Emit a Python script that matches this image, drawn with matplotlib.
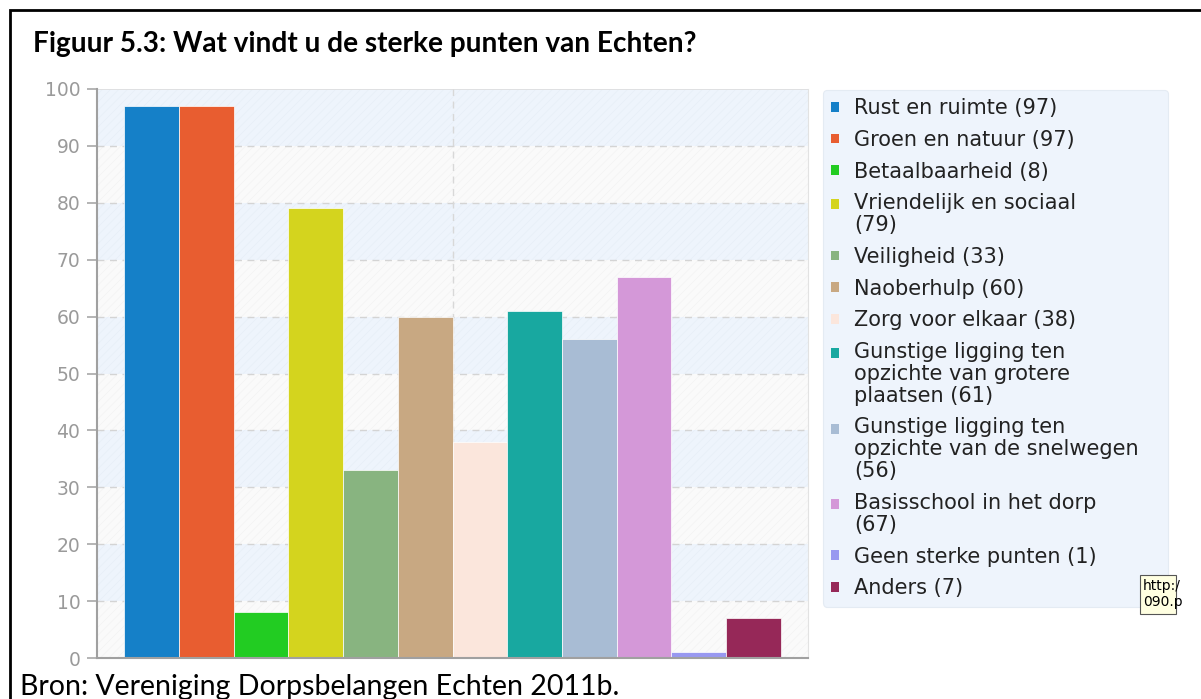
import matplotlib
matplotlib.use("Agg")
import matplotlib.pyplot as plt
from matplotlib.patches import Patch, Rectangle
from matplotlib.legend_handler import HandlerBase

categories = ["Rust en ruimte", "Groen en natuur", "Betaalbaarheid",
              "Vriendelijk en sociaal", "Veiligheid", "Naoberhulp",
              "Zorg voor elkaar", "Gunstige ligging ten opzichte van grotere plaatsen",
              "Gunstige ligging ten opzichte van de snelwegen",
              "Basisschool in het dorp", "Geen sterke punten", "Anders"]
legend_text = ["Rust en ruimte (97)", "Groen en natuur (97)", "Betaalbaarheid (8)",
               "Vriendelijk en sociaal\n(79)", "Veiligheid (33)", "Naoberhulp (60)",
               "Zorg voor elkaar (38)", "Gunstige ligging ten\nopzichte van grotere\nplaatsen (61)",
               "Gunstige ligging ten\nopzichte van de snelwegen\n(56)",
               "Basisschool in het dorp\n(67)", "Geen sterke punten (1)", "Anders (7)"]
values = [97, 97, 8, 79, 33, 60, 38, 61, 56, 67, 1, 7]
colors = ["#1580c8", "#e85d30", "#22cc22", "#d4d41e", "#88b480", "#c8a882",
          "#fbe6dc", "#18a8a0", "#a8bcd4", "#d498d8", "#9898f0", "#962858"]
yticks = list(range(0, 101, 10))


class TopPatch(HandlerBase):
    # square marker aligned with the first line of a wrapped label
    def __init__(self, shift):
        super().__init__()
        self.shift = shift

    def create_artists(self, legend, orig_handle, xdescent, ydescent, width, height, fontsize, trans):
        r = Rectangle((-xdescent, -ydescent + self.shift), width, height,
                      facecolor=orig_handle.get_facecolor(), edgecolor="none", transform=trans)
        return [r]


W, H = 1201, 699
fig = plt.figure(figsize=(W / 100, H / 100), dpi=100)
fig.patch.set_facecolor("white")

# outer frame of the report figure
fig.add_artist(Rectangle((10 / W, -0.1), 1.2, 1 - 10 / H + 0.1, transform=fig.transFigure,
                         fill=False, edgecolor="black", linewidth=2))

fig.text(33 / W, 1 - 44 / H, "Figuur 5.3: Wat vindt u de sterke punten van Echten?",
         fontsize=20.2, fontweight="bold", family="Lato", va="center", ha="left")
fig.text(20 / W, 1 - 687 / H, "Bron: Vereniging Dorpsbelangen Echten 2011b.",
         fontsize=20.5, family="Lato", va="center", ha="left")

ax = fig.add_axes([97 / W, 41 / H, 711 / W, 569 / H])
plt.rcParams["hatch.linewidth"] = 0.4

# alternating background bands
for i in range(10):
    lo = i * 10
    if i % 2 == 0:
        ax.axhspan(lo, lo + 10, facecolor="#fafafa", edgecolor="#f1f1f1", hatch="////", lw=0, zorder=0)
    else:
        ax.axhspan(lo, lo + 10, facecolor="#eef4fc", edgecolor="#e6edf6", hatch="////", lw=0, zorder=0)

for y in yticks[1:-1]:
    ax.axhline(y, color="#d4d4d4", linestyle=(0, (5, 4)), linewidth=1, zorder=1)
ax.axhline(100, color="#dddddd", linewidth=1.2, zorder=1)
ax.axvline(5.5, color="#d8d8d8", linestyle=(0, (5, 4)), linewidth=1, zorder=1)

x = list(range(len(values)))
ax.bar(x, values, width=1.0, color=colors, edgecolor="#ffffff", linewidth=0.5, zorder=2)

ax.set_xlim(-1, 12)
ax.set_ylim(0, 100)
ax.set_yticks(yticks)
ax.set_xticks([])
ax.tick_params(axis="y", colors="#a8a8a8", labelcolor="#9a9a9a", labelsize=13.5,
               length=7, width=1.2, pad=5)
for s in ["left", "bottom"]:
    ax.spines[s].set_color("#a0a0a0")
    ax.spines[s].set_linewidth(1.5)
ax.spines["top"].set_visible(False)
ax.spines["right"].set_color("#e2e2e2")

handles = [Patch(facecolor=c, edgecolor="none") for c in colors]
line_step = 15.3  # points between wrapped lines
hmap = {h: TopPatch((lbl.count("\n")) * line_step / 2) for h, lbl in zip(handles, legend_text)}
leg = fig.legend(handles, legend_text, loc="upper left", handler_map=hmap,
                 bbox_to_anchor=(823 / W, 1 - 90 / H, 345 / W, 0), mode="expand",
                 borderaxespad=0, fontsize=15, handlelength=0.35, handleheight=0.35,
                 handletextpad=0.75, labelspacing=0.56, borderpad=0.4, fancybox=True,
                 framealpha=1, facecolor="#eef4fc", edgecolor="#e4ebf3", shadow=False)
leg.get_frame().set_linewidth(0.8)
leg.set_zorder(5)
for t in leg.get_texts():
    t.set_color("#222222")
    t.set_linespacing(1.12)

# tooltip remnant at the right edge, clipped by the screenshot
fig.add_artist(Rectangle((1140 / W, 1 - 614 / H), 36 / W, 39 / H, transform=fig.transFigure,
                         facecolor="#ffffe1", edgecolor="#555555", linewidth=0.8, zorder=10))
fig.text(1143 / W, 1 - 594 / H, "http:/\n090.p", fontsize=10, family="DejaVu Sans",
         va="center", ha="left", linespacing=1.25, zorder=11)

fig.savefig("out.png", dpi=100)
